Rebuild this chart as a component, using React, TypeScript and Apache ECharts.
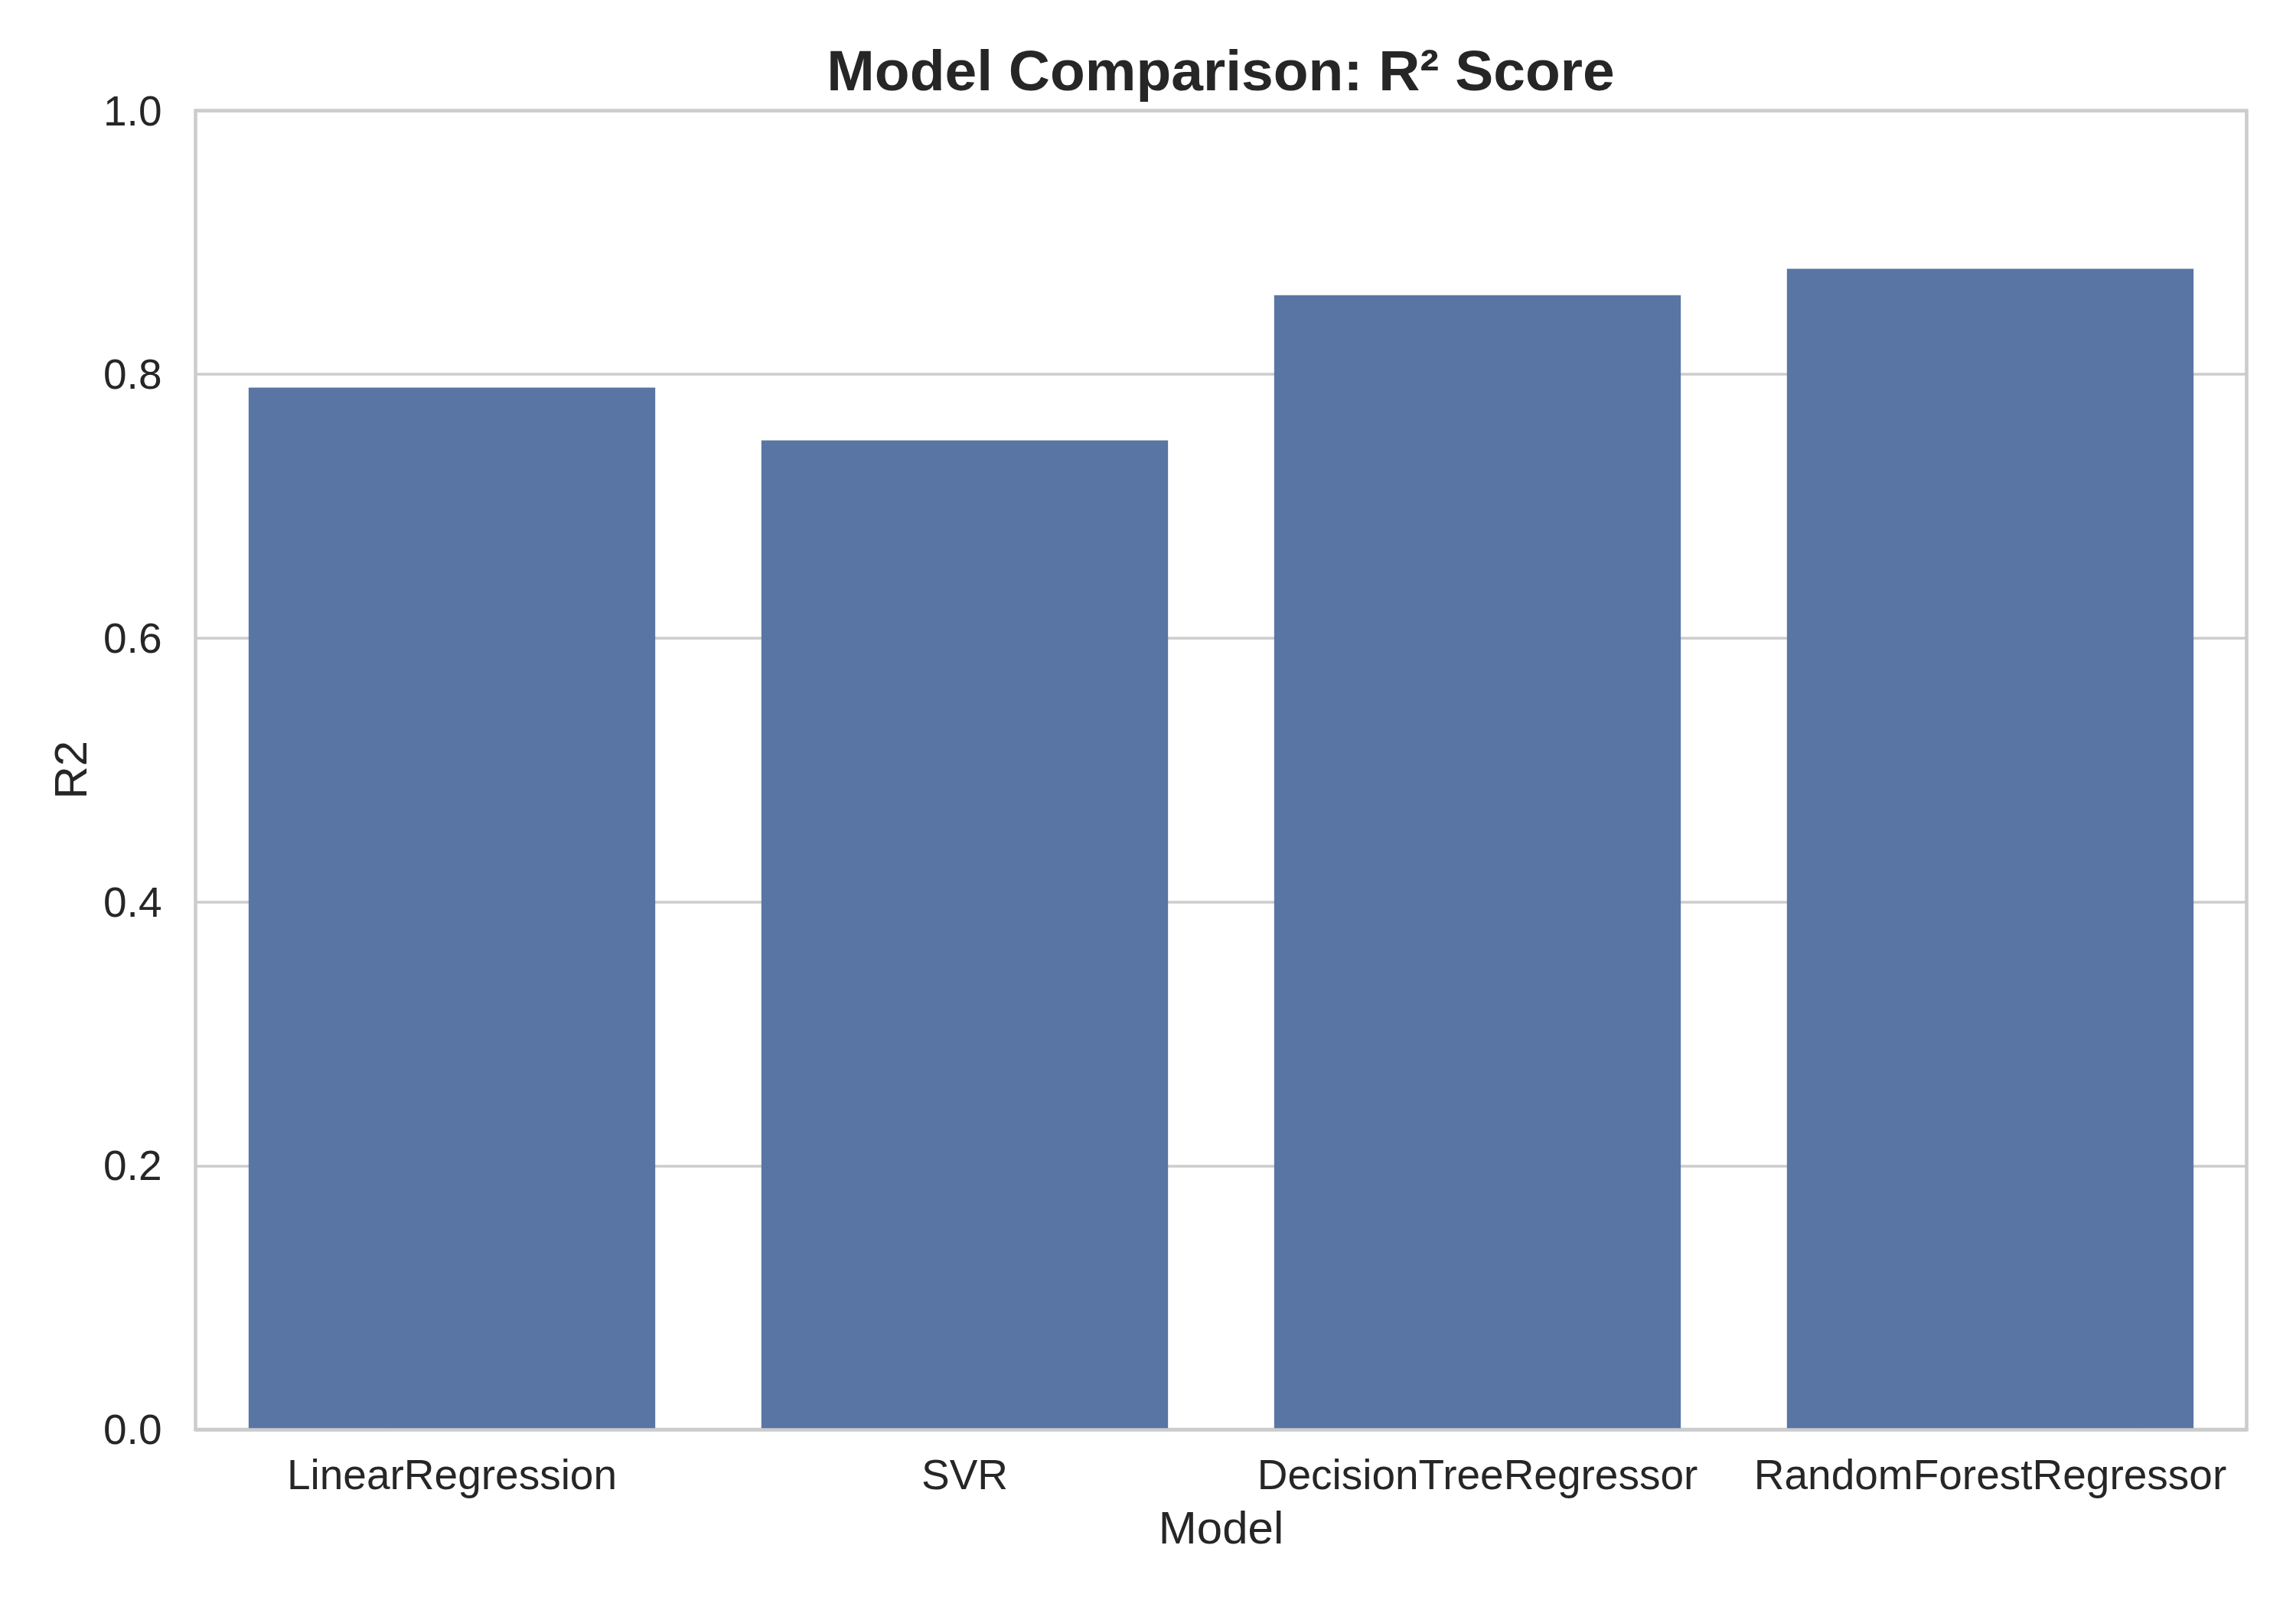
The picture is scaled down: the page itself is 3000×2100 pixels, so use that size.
import React, { useEffect, useRef } from "react";
import * as echarts from "echarts";

const categories = ["LinearRegression", "SVR", "DecisionTreeRegressor", "RandomForestRegressor"];
const r2Values = [0.79, 0.75, 0.86, 0.88];
const titleText = "Model Comparison: R² Score";
const xName = "Model";
const yName = "R2";

const FONT = "Liberation Sans, Arial, Helvetica, sans-serif";
const TEXT = "#262626";
const GRIDC = "#cccccc";

export default function App() {
  const ref = useRef<HTMLDivElement>(null);
  useEffect(() => {
    if (!ref.current) return;
    const chart = echarts.init(ref.current, undefined, { renderer: "svg" });
    chart.setOption({
      animation: false,
      backgroundColor: "#ffffff",
      title: {
        text: titleText,
        left: 1595,
        top: 54,
        padding: 0,
        textAlign: "center",
        textStyle: { fontFamily: FONT, fontSize: 75, fontWeight: "bold", color: TEXT },
      },
      grid: {
        left: 255.5,
        right: 64.5,
        top: 144.5,
        bottom: 232,
        show: true,
        borderColor: GRIDC,
        borderWidth: 4.5,
        backgroundColor: "#ffffff",
      },
      xAxis: {
        type: "category",
        data: categories,
        name: xName,
        nameLocation: "middle",
        nameGap: 98,
        nameTextStyle: { fontFamily: FONT, fontSize: 60, color: TEXT },
        z: 10,
        axisLine: { show: true, lineStyle: { color: GRIDC, width: 4.5 } },
        axisTick: { show: false },
        axisLabel: { fontFamily: FONT, fontSize: 55, color: TEXT, margin: 31, interval: 0 },
        splitLine: { show: false },
      },
      yAxis: {
        type: "value",
        min: 0,
        max: 1,
        interval: 0.2,
        name: yName,
        nameLocation: "middle",
        nameGap: 133,
        nameRotate: 90,
        nameTextStyle: { fontFamily: FONT, fontSize: 60, color: TEXT },
        axisLine: { show: false },
        axisTick: { show: false },
        axisLabel: {
          fontFamily: FONT,
          fontSize: 55,
          color: TEXT,
          margin: 44,
          formatter: (v: number) => v.toFixed(1),
        },
        splitLine: { show: true, lineStyle: { color: GRIDC, width: 3.5 } },
      },
      series: [
        {
          type: "bar",
          data: r2Values,
          barCategoryGap: "20.7%",
          itemStyle: { color: "#5975a4" },
          z: 2,
        },
      ],
    });
    return () => chart.dispose();
  }, []);
  return (
    <div
      ref={ref}
      style={{ position: "fixed", left: 0, top: 0, width: 3000, height: 2100 }}
    />
  );
}
